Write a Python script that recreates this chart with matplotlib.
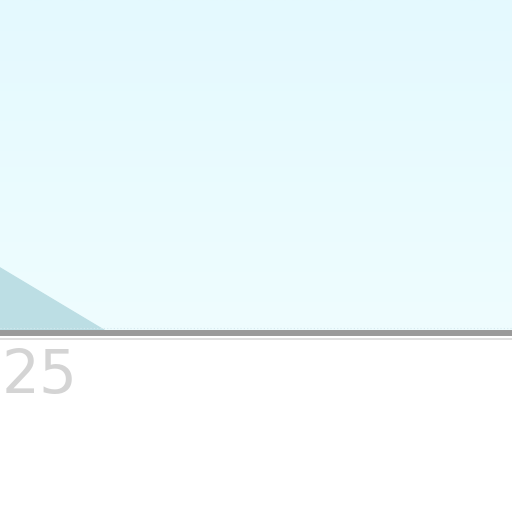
import numpy as np
import matplotlib.pyplot as plt
from matplotlib.colors import LinearSegmentedColormap

# data (zoomed-in piece of a bigger chart)
days = [24, 25, 26, 27, 28, 29, 30, 31, 32]
values = [24.8, 12.4, 0, 0, 0, 0, 0, 0, 0]
tick_days = [25]
tick_labels = ['25']

fig = plt.figure(figsize=(5.12, 5.12), dpi=100)
fig.patch.set_facecolor('white')
ax = fig.add_axes([0, 1 - 333 / 512, 1, 333 / 512])

x0 = 25 - 40 / 69
x1 = x0 + 512 / 69
ax.set_xlim(x0, x1)
ax.set_ylim(0, 100)

# background gradient
bg = LinearSegmentedColormap.from_list('bg', ['#effdff', '#e4f9fe'])
grad = np.linspace(0, 1, 256).reshape(-1, 1)
ax.imshow(grad, cmap=bg, aspect='auto', extent=[x0, x1, 0, 100],
          origin='lower', zorder=0)

# area
ax.fill_between(days, values, 0, color='#bcdee4', lw=0, zorder=2)
ax.plot(days, values, color='#bcdee4', lw=0.8, zorder=2)

# faint gridline just above the axis
ax.axhline(1.5, color='#d6eaf0', lw=0.8, ls=(0, (1, 2)), zorder=3)

for s in ['top', 'right', 'left']:
    ax.spines[s].set_visible(False)
ax.spines['bottom'].set_color('#9a9a9a')
ax.spines['bottom'].set_linewidth(4.3)
ax.set_yticks([])
ax.set_xticks(tick_days)
ax.set_xticklabels(tick_labels, fontsize=43, color='#d4d4d4',
                   family='DejaVu Sans')
ax.tick_params(axis='x', length=0, pad=10)

# lighter line under the axis
fig.add_artist(plt.Line2D([0, 1], [1 - 338.5 / 512] * 2, color='#d9d9d9',
                          lw=1.2, transform=fig.transFigure))

fig.savefig('out.png', dpi=100, facecolor='white')
